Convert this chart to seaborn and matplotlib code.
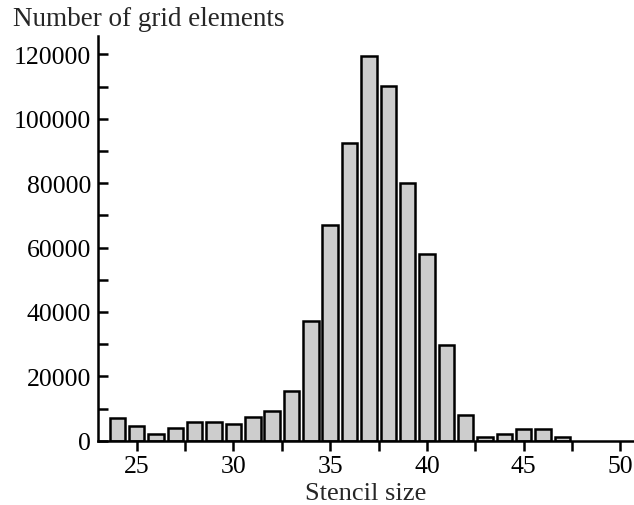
import matplotlib
matplotlib.use("Agg")
import matplotlib.pyplot as plt
import seaborn as sns
import pandas as pd
from matplotlib.ticker import MultipleLocator

stencil_size = [24, 25, 26, 27, 28, 29, 30, 31, 32, 33, 34, 35, 36, 37, 38,
                39, 40, 41, 42, 43, 44, 45, 46, 47]
n_elements = [6900, 4450, 2000, 3850, 5700, 5700, 5100, 7250, 9250, 15500,
              37200, 67100, 92600, 119600, 110300, 80100, 58100, 29700,
              8000, 1200, 2100, 3500, 3500, 1200]
x_ticks = [25, 30, 35, 40, 45, 50]
y_ticks = [0, 20000, 40000, 60000, 80000, 100000, 120000]

df = pd.DataFrame({"size": stencil_size, "count": n_elements})

sns.set_style("ticks")
plt.rcParams["font.family"] = ["Liberation Serif", "DejaVu Serif"]

fig = plt.figure(figsize=(6.34, 5.06), dpi=100)
ax = fig.add_axes([98 / 634, 64.3 / 506, 1 - 98 / 634, (441.7 - 36.7) / 506])

sns.barplot(data=df, x="size", y="count", native_scale=True, width=0.8,
            color="#cdcdcd", edgecolor="black", linewidth=1.8,
            saturation=1, errorbar=None, ax=ax)

ax.set_xlim(23.0, 50.7)
ax.set_ylim(0, 125800)
ax.set_xticks(x_ticks)
ax.set_yticks(y_ticks)
ax.set_yticklabels([str(v) for v in y_ticks])
ax.xaxis.set_minor_locator(MultipleLocator(2.5))
ax.yaxis.set_minor_locator(MultipleLocator(10000))

for s in ["top", "right"]:
    ax.spines[s].set_visible(False)
for s in ["left", "bottom"]:
    ax.spines[s].set_linewidth(1.8)
    ax.spines[s].set_color("black")

ax.tick_params(axis="x", which="both", direction="out", length=7, width=1.8,
               labelsize=18.5, pad=3, colors="black")
ax.tick_params(axis="y", which="both", direction="in", length=7, width=1.8,
               labelsize=18.5, pad=5, colors="black")

ax.set_xlabel("Stencil size", fontsize=19, labelpad=4)
ax.set_ylabel("")
fig.text(13 / 634, 1 - 26 / 506, "Number of grid elements", fontsize=19.5,
         ha="left", va="baseline")

fig.savefig("out.png", dpi=100)
